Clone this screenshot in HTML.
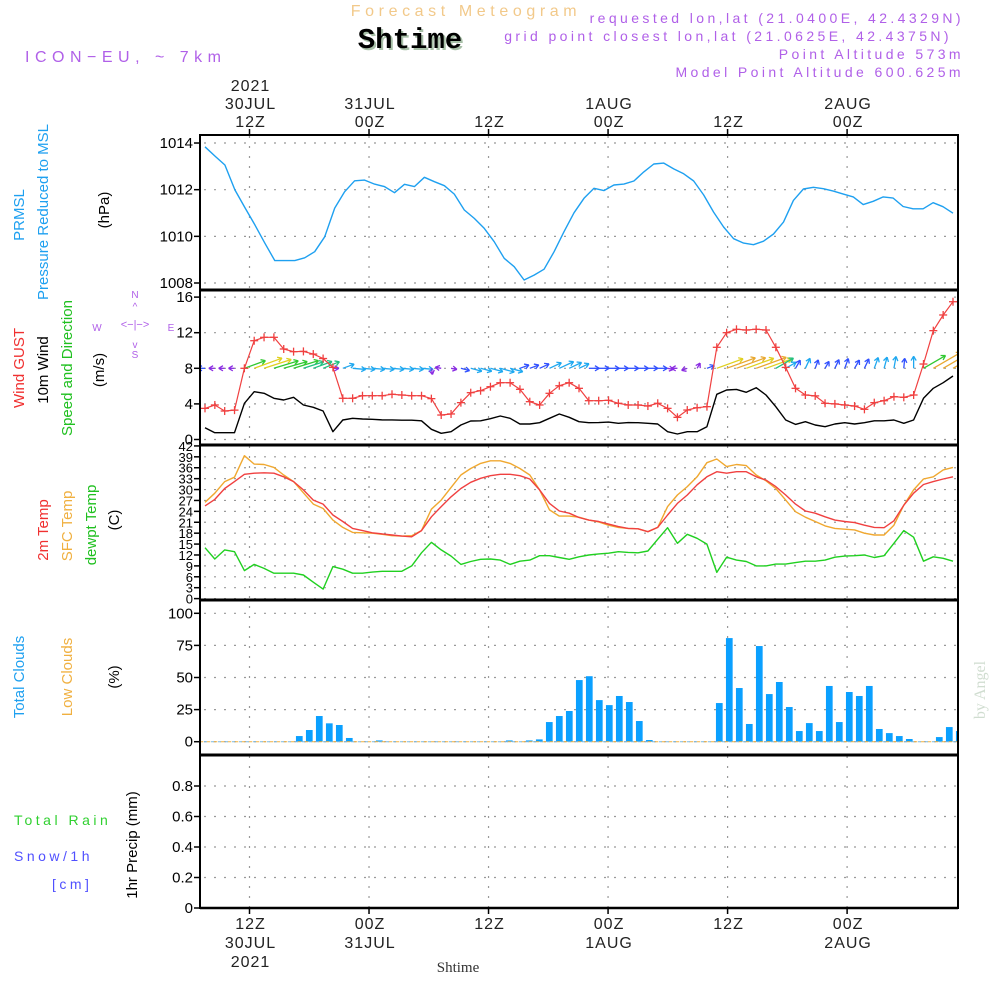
<!DOCTYPE html>
<html><head><meta charset="utf-8">
<style>
html,body{margin:0;padding:0;background:#fff;}
svg{display:block;font-family:"Liberation Sans",sans-serif;}
</style></head>
<body>
<svg id="chart" width="1000" height="1000" viewBox="0 0 1000 1000" xmlns="http://www.w3.org/2000/svg">
<defs><clipPath id="windclip"><rect x="201" y="291" width="756" height="153"/></clipPath></defs>
<rect x="0" y="0" width="1000" height="1000" fill="#fff"/>
<text x="466" y="16" text-anchor="middle" font-size="16" letter-spacing="4.6" fill="#f2c98a">Forecast Meteogram</text>
<text x="412" y="50" text-anchor="middle" font-size="29" font-weight="bold" font-family="Liberation Mono, monospace" fill="#a8c0a8">Shtime</text>
<text x="410" y="48" text-anchor="middle" font-size="29" font-weight="bold" font-family="Liberation Mono, monospace" fill="#000">Shtime</text>
<text x="25" y="62" font-size="16" letter-spacing="5.5" fill="#b060e8">ICON−EU, ~ 7km</text>
<g font-size="14" letter-spacing="3.4" fill="#b060e8" text-anchor="end">
<text x="964" y="23">requested lon,lat (21.0400E, 42.4329N)</text>
<text x="952" y="41">grid point closest lon,lat (21.0625E, 42.4375N)</text>
<text x="964" y="59">Point Altitude 573m</text>
<text x="964" y="77">Model Point Altitude 600.625m</text>
</g>
<text transform="translate(985,690) rotate(-90)" text-anchor="middle" font-size="16" font-family="Liberation Serif, serif" fill="#d0ddd0">by Angel</text>
<g id="left-labels" font-size="15">
<text transform="translate(24,215) rotate(-90)" text-anchor="middle" fill="#1ea0f0">PRMSL</text>
<text transform="translate(48,212) rotate(-90)" text-anchor="middle" fill="#1ea0f0">Pressure Reduced to MSL</text>
<text transform="translate(109,210) rotate(-90)" text-anchor="middle" fill="#000">(hPa)</text>
<text transform="translate(24,368) rotate(-90)" text-anchor="middle" fill="#f03030">Wind GUST</text>
<text transform="translate(48,370) rotate(-90)" text-anchor="middle" fill="#000">10m Wind</text>
<text transform="translate(72,368) rotate(-90)" text-anchor="middle" fill="#20c020">Speed and Direction</text>
<text transform="translate(104,370) rotate(-90)" text-anchor="middle" fill="#000">(m/s)</text>
<text transform="translate(48,530) rotate(-90)" text-anchor="middle" fill="#f03030">2m Temp</text>
<text transform="translate(72,526) rotate(-90)" text-anchor="middle" fill="#f0b040">SFC Temp</text>
<text transform="translate(96,525) rotate(-90)" text-anchor="middle" fill="#20c020">dewpt Temp</text>
<text transform="translate(119,520) rotate(-90)" text-anchor="middle" fill="#000">(C)</text>
<text transform="translate(24,677) rotate(-90)" text-anchor="middle" fill="#1ea0f0">Total Clouds</text>
<text transform="translate(72,677) rotate(-90)" text-anchor="middle" fill="#f0b040">Low Clouds</text>
<text transform="translate(119,677) rotate(-90)" text-anchor="middle" fill="#000">(%)</text>
<text transform="translate(137,845) rotate(-90)" text-anchor="middle" fill="#000">1hr Precip (mm)</text>
</g>
<g font-size="14" letter-spacing="3.5">
<text x="14" y="825" fill="#30d030">Total  Rain</text>
<text x="14" y="861" fill="#5050ff">Snow/1h</text>
<text x="52" y="889" fill="#5050ff">[cm]</text>
</g>
<g id="compass" fill="#b060e8" font-size="10" stroke="none">
<text x="135" y="298" text-anchor="middle">N</text>
<text x="135" y="358" text-anchor="middle">S</text>
<text x="97" y="331" text-anchor="middle">W</text>
<text x="171" y="331" text-anchor="middle">E</text>
<text x="135" y="328" text-anchor="middle" font-size="11">&lt;−|−&gt;</text>
<text x="135" y="310" text-anchor="middle" font-size="10">^</text>
<text x="135" y="348" text-anchor="middle" font-size="10">v</text>
</g>
<text x="458" y="972" text-anchor="middle" font-size="15" font-family="Liberation Serif, serif" fill="#333">Shtime</text>
<g id="plot"></g>
</svg>
<script>
// ---- data ----
const timeTicks = [0, 12, 24, 36, 48, 60];
const topLabels1 = ["30JUL", "31JUL", "", "1AUG", "", "2AUG"];
const hourLabels = ["12Z", "00Z", "12Z", "00Z", "12Z", "00Z"];
const pressure = [1013.84,1013.44,1013.06,1011.99,1011.23,1010.49,1009.71,1008.96,1008.96,1008.96,1009.08,1009.34,1009.98,1011.21,1011.91,1012.38,1012.41,1012.24,1012.13,1011.87,1012.23,1012.13,1012.53,1012.34,1012.17,1011.81,1011.13,1010.77,1010.34,1009.77,1009.06,1008.70,1008.13,1008.34,1008.59,1009.34,1010.20,1011.01,1011.63,1012.06,1011.96,1012.2,1012.24,1012.37,1012.76,1013.1,1013.14,1012.89,1012.68,1012.37,1011.77,1011.04,1010.4,1009.9,1009.71,1009.64,1009.79,1010.1,1010.61,1011.54,1012.03,1012.1,1012.04,1011.94,1011.81,1011.69,1011.36,1011.5,1011.69,1011.64,1011.28,1011.18,1011.18,1011.44,1011.27,1010.99];
const pressureTicks = [1008, 1010, 1012, 1014];
const wind10m = [1.33,0.76,0.76,0.76,4.07,5.37,5.19,4.63,4.44,4.74,3.88,3.62,3.2,0.88,2.19,2.38,2.3,2.27,2.2,2.2,2.17,2.17,2.1,1.15,0.7,0.88,1.63,2.08,2.1,2.34,2.64,2.38,1.74,1.74,1.89,2.38,2.87,2.49,2.0,1.89,1.9,1.96,1.82,1.9,1.89,1.82,1.74,0.88,0.62,0.88,0.88,1.44,5.08,5.56,5.63,5.3,5.82,5.0,3.69,2.19,1.7,2.0,1.63,1.44,1.74,1.89,1.74,1.89,2.1,2.1,2.19,1.82,2.19,4.63,5.75,6.38,7.13];
const windGust = [3.5,3.88,3.2,3.3,8.0,11.1,11.48,11.48,10.17,9.87,9.9,9.6,9.1,8.1,4.63,4.63,4.92,4.92,4.92,5.08,5.0,4.92,4.92,4.59,2.75,2.87,4.14,5.26,5.48,5.93,6.38,6.38,5.64,4.25,3.88,5.19,6.04,6.38,5.75,4.36,4.36,4.4,4.07,3.88,3.88,3.76,4.07,3.5,2.49,3.31,3.57,3.69,10.36,12.0,12.38,12.3,12.38,12.3,10.36,8.1,5.75,5.0,4.9,4.07,4.0,3.88,3.76,3.39,4.14,4.36,4.81,4.74,5.0,8.48,12.23,13.99,15.48];
const windDir = [180,180,180,180,20,20,18,17,16,17,18,20,22,0,20,-5,-5,-5,-5,-5,-5,-5,-5,-80,170,-10,-15,-15,-15,-15,-15,-15,20,20,25,25,25,25,25,0,0,0,0,0,0,0,0,-10,180,200,60,20,20,20,20,20,20,20,30,30,60,65,70,60,65,70,60,65,70,75,80,85,90,30,30,30,30];
const windTicks = [0, 4, 8, 12, 16];
const temp2m = [25.5,27.3,30.3,32.2,34.2,34.5,34.6,34.5,33.5,32.2,29.9,27.1,26.0,23.0,21.2,19.3,18.7,18.1,17.8,17.5,17.2,17.0,18.7,22.5,25.3,28.0,30.3,32.0,33.1,33.8,34.2,34.2,33.8,32.9,29.9,26.2,24.1,23.5,22.3,21.6,21.2,20.5,19.8,19.3,19.2,18.4,19.6,23.0,26.2,28.5,31.3,33.5,34.9,34.5,34.9,34.9,33.5,32.6,30.8,28.5,26.0,24.1,23.5,22.5,21.6,21.2,20.9,20.2,19.6,19.5,21.4,25.7,29.0,31.4,32.2,32.9,33.5];
const tempSfc = [26.5,29.0,32.2,33.4,39.3,37.0,36.9,36.1,34.0,32.2,29.1,26.0,24.8,21.6,19.6,18.2,18.1,18.0,17.7,17.3,17.2,17.3,18.7,24.6,27.1,30.6,34.0,35.8,37.2,37.9,37.9,37.2,35.8,34.0,29.9,24.4,22.7,22.7,22.4,21.6,21.1,20.2,19.6,19.3,19.2,18.4,19.6,25.3,28.5,30.8,33.5,37.4,38.4,36.3,36.9,36.6,34.0,32.4,30.3,27.1,23.9,22.4,21.2,20.0,19.3,19.1,18.9,18.0,17.5,17.5,20.2,25.7,29.9,32.9,33.5,35.4,36.1];
const dewpoint = [14.0,10.9,13.4,12.9,7.7,9.4,8.3,7.0,7.0,7.0,6.5,4.5,2.6,8.8,8.1,7.0,7.0,7.3,7.5,7.5,7.5,9.0,12.6,15.5,13.4,11.7,9.4,10.2,10.8,10.9,10.6,9.4,10.3,10.6,11.8,11.8,11.3,10.8,11.5,12.0,12.3,12.5,12.9,12.7,12.6,13.1,16.3,19.5,15.2,17.7,16.6,15.0,7.2,11.4,10.6,10.2,9.0,9.0,9.5,9.5,9.9,10.3,10.3,10.6,11.4,11.7,11.8,12.0,11.3,11.8,15.2,18.7,16.9,10.3,11.5,11.1,10.3];
const tempTicks = [0,3,6,9,12,15,18,21,24,27,30,33,36,39,42];
const totalClouds = [0,0,0,0,0,0,0,0,0,0,4.4,9.1,20,14.3,13,2.9,0,0,1,0,0,0,0,0,0,0,0,0,0,0,0,1,0,1,1.8,15.3,20,23.9,48,51,32.4,28.5,35.6,30.9,16.1,1.3,0,0,0,0,0,0,30.1,80.7,41.8,13.8,74.5,37.1,46.5,27,8.3,14.5,8.3,43.4,15.3,38.7,35.6,43.4,9.9,6.7,4.4,2.1,0,0,3.6,11.4,8.3];
const lowClouds = totalClouds.map(() => 0);
const cloudTicks = [0, 25, 50, 75, 100];
const precip = totalClouds.map(() => 0);
const precipTicks = [0, 0.2, 0.4, 0.6, 0.8];

// ---- geometry ----
const X0 = 200, X1 = 958;
const NS = "http://www.w3.org/2000/svg";
const plot = document.getElementById('plot');
function el(tag, attrs, parent) {
  const e = document.createElementNS(NS, tag);
  for (const k in attrs) e.setAttribute(k, attrs[k]);
  (parent || plot).appendChild(e);
  return e;
}
const xTime = h => 249.5 + h * 9.96;
const xLine = (k, n) => 205 + k * (748 / (n - 1));
const xBar = i => 199.3 + i * 10;
const yP = v => 283 - (v - 1008) * 23.33;
const yW = v => 439.5 - v * 8.9;
const yT = v => 598.6 - v * 3.635;
const yC = v => 741.7 - v * 1.284;
const yR = v => 908 - v * 152.5;

// grids
const gridG = el('g', {stroke: '#999', 'stroke-width': 1.2, 'stroke-dasharray': '2,8'});


timeTicks.forEach(h => {
  const l = el('line', {x1: xTime(h), x2: xTime(h), y1: 136, y2: 908}, gridG);
  
  
});
function hgrid(vals, yf) {
  vals.forEach(v => {
    const l = el('line', {x1: X0 + 4, x2: X1, y1: yf(v), y2: yf(v)}, gridG);
    
    
  });
}
hgrid(pressureTicks, yP);
hgrid(windTicks, yW);
hgrid(tempTicks, yT);
hgrid(cloudTicks, yC);
hgrid(precipTicks.slice(1), yR);

// y tick labels
function yAxis(vals, yf, name, fmt, fs) {
  const g = el('g', {'font-size': fs || 15, fill: '#000', 'text-anchor': 'end'});
  
  
  vals.forEach(v => {
    const t = el('text', {x: 193, y: yf(v) + 5}, g);
    
    
    t.textContent = fmt ? fmt(v) : v;
    el('line', {x1: X0 - 6, x2: X0, y1: yf(v), y2: yf(v), stroke: '#000', 'stroke-width': 1.5}, g);
  });
}
yAxis(pressureTicks, yP, 'pressure-y-axis');
yAxis(windTicks, yW, 'wind-y-axis');
yAxis(tempTicks, yT, 'temp-y-axis', null, 13);
yAxis(cloudTicks, yC, 'cloud-y-axis');
yAxis(precipTicks, yR, 'precip-y-axis', v => v === 0 ? '0' : v.toFixed(1));

// x labels top & bottom
const xg = el('g', {'font-size': 16, fill: '#222', 'text-anchor': 'middle', 'letter-spacing': 1});


timeTicks.forEach((h, i) => {
  const x = xTime(h);
  const t1 = el('text', {x: x + 1, y: 127}, xg);
  
  
  t1.textContent = hourLabels[i];
  if (topLabels1[i]) {
    const t2 = el('text', {x: x + 1, y: 109}, xg);
    
    
    t2.textContent = topLabels1[i];
  }
  const b1 = el('text', {x: x + 1, y: 929}, xg);
  
  
  b1.textContent = hourLabels[i];
  if (topLabels1[i]) {
    const b2 = el('text', {x: x + 1, y: 948}, xg);
    
    
    b2.textContent = topLabels1[i];
  }
  el('line', {x1: x, x2: x, y1: 129, y2: 136, stroke: '#000', 'stroke-width': 1.5}, xg);
  el('line', {x1: x, x2: x, y1: 908, y2: 914, stroke: '#000', 'stroke-width': 1.5}, xg);
});
const yr1 = el('text', {x: xTime(0) + 1, y: 91}, xg);


yr1.textContent = '2021';
const yr2 = el('text', {x: xTime(0) + 1, y: 967}, xg);


yr2.textContent = '2021';

// helpers
function polyline(arr, yf, color, name, w) {
  const pts = arr.map((v, k) => xLine(k, arr.length).toFixed(1) + ',' + yf(v).toFixed(1)).join(' ');
  const p = el('polyline', {points: pts, fill: 'none', stroke: color, 'stroke-width': w || 1.4, 'stroke-linejoin': 'round'});
  
  
  return p;
}

// pressure
polyline(pressure, yP, '#1ea0f0', 'pressure-line');

// wind arrows
function speedColor(s) {
  if (s < 1.2) return '#8a2be2';
  if (s < 2.0) return '#3050ff';
  if (s < 3.0) return '#1ea8f0';
  if (s < 4.0) return '#20c080';
  if (s < 4.8) return '#30c830';
  if (s < 5.4) return '#e0d020';
  return '#e8a830';
}
const arrG = el('g', {'stroke-width': 1.3, fill: 'none', 'clip-path': 'url(#windclip)'});


windDir.forEach((d, k) => {
  const s = wind10m[k];
  const len = Math.max(6, s * 5.5);
  const a = d * Math.PI / 180;
  const x0 = xLine(k, windDir.length), y0 = yW(8);
  const x1 = x0 + len * Math.cos(a), y1 = y0 - len * Math.sin(a);
  const c = speedColor(s);
  const g = el('g', {stroke: c}, arrG);
  
  
  el('line', {x1: x0, y1: y0, x2: x1, y2: y1}, g);
  const h = 5;
  [a + 2.6, a - 2.6].forEach(b => {
    el('line', {x1: x1, y1: y1, x2: x1 + h * Math.cos(b), y2: y1 - h * Math.sin(b)}, g);
  });
});

// wind lines
polyline(wind10m, yW, '#000', 'wind-10m-line');
polyline(windGust, yW, '#f04040', 'wind-gust-line', 1.2);
const gm = el('g', {stroke: '#f04040', 'stroke-width': 1.3});


windGust.forEach((v, k) => {
  const x = xLine(k, windGust.length), y = yW(v);
  const g = el('g', {}, gm);
  
  
  el('line', {x1: x - 4, x2: x + 4, y1: y, y2: y}, g);
  el('line', {x1: x, x2: x, y1: y - 4, y2: y + 4}, g);
});

// temperatures
polyline(tempSfc, yT, '#f0a830', 'sfc-temp-line');
polyline(temp2m, yT, '#f04040', 'temp-2m-line');
polyline(dewpoint, yT, '#20d020', 'dewpoint-line');

// clouds
const cg = el('g', {fill: '#0aa0ff'});


totalClouds.forEach((v, i) => {
  if (v <= 0) return;
  const x = xBar(i);
  const w = Math.min(6.7, X1 - (x - 3.35));
  const r = el('rect', {x: x - 3.35, y: yC(v), width: w, height: yC(0) - yC(v)}, cg);
  
  
});
const lowPts = lowClouds.map((v, i) => Math.min(X1, xBar(i)).toFixed(1) + ',' + yC(v).toFixed(1)).join(' ');
const lowL = el('polyline', {points: lowPts, fill: 'none', stroke: '#f0b040', 'stroke-width': 1, 'stroke-dasharray': '4,3'});


const zeroL = el('line', {x1: X0, x2: X1, y1: yC(0), y2: yC(0), stroke: '#7ab8e0', 'stroke-width': 1, 'stroke-dasharray': '3,4', 'stroke-dashoffset': 3});



// precip (all zero)
const precPts = precip.map((v, i) => Math.min(X1, xBar(i)).toFixed(1) + ',' + yR(v).toFixed(1)).join(' ');
const precL = el('polyline', {points: precPts, fill: 'none', stroke: '#000', 'stroke-width': 2, 'stroke-dasharray': '6,3'});



// frames
const fr = el('g', {stroke: '#000', fill: 'none'});


el('rect', {x: X0, y: 135, width: X1 - X0, height: 773, 'stroke-width': 2}, fr);
[290, 445, 600, 755].forEach(y => {
  el('line', {x1: X0, x2: X1, y1: y, y2: y, 'stroke-width': 3}, fr);
});
el('line', {x1: X0, x2: X1, y1: 908, y2: 908, 'stroke-width': 2.5}, fr);
</script>
</body></html>
